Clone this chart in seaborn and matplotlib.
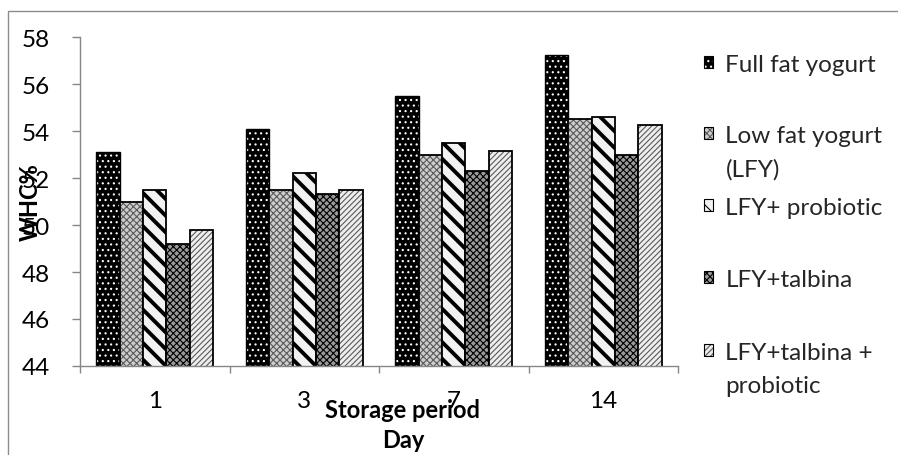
import matplotlib
matplotlib.use('Agg')
import matplotlib.pyplot as plt
import matplotlib.patches as mpatches
from matplotlib.colors import to_rgba
import seaborn as sns
import pandas as pd

# ---- data ----
days = ['1', '3', '7', '14']
products = ['Full fat yogurt', 'Low fat yogurt\n(LFY)', 'LFY+ probiotic',
            'LFY+talbina', 'LFY+talbina +\nprobiotic']
full_fat = [53.1, 54.1, 55.5, 57.25]
low_fat = [51.0, 51.5, 53.0, 54.5]
lfy_probiotic = [51.5, 52.2, 53.5, 54.6]
lfy_talbina = [49.2, 51.3, 52.3, 53.0]
lfy_talbina_probiotic = [49.8, 51.5, 53.15, 54.25]
y_ticks = [44, 46, 48, 50, 52, 54, 56, 58]
x_label = 'Storage period\nDay'
y_label = 'WHC%'

series = [full_fat, low_fat, lfy_probiotic, lfy_talbina, lfy_talbina_probiotic]
rows = []
for prod, vals in zip(products, series):
    for d, v in zip(days, vals):
        rows.append({'day': d, 'whc': v, 'product': prod})
df = pd.DataFrame(rows)

# ---- styles: face, hatch, hatch colour, hatch lw, edge lw ----
styles = [
    ('#000000', '...', '#ffffff', 0.8, 1.0),
    ('#cdcdcd', 'xxxxx', '#5a5a5a', 0.8, 1.3),
    ('#f2f2f2', '\\\\', '#000000', 2.8, 1.3),
    ('#9a9a9a', 'xxxxx', '#000000', 0.8, 1.3),
    ('#eeeeee', '//////', '#5a5a5a', 0.8, 1.3),
]

sns.set_theme(style='white')
plt.rcParams['font.family'] = ['Lato', 'DejaVu Sans']
plt.rcParams['hatch.linewidth'] = 0.8

FS = 17.5
DPI = 100

fig = plt.figure(figsize=(8.98, 4.56), dpi=DPI)
ax = fig.add_axes([80/898, 1-367/456, 598/898, 329/456])

sns.barplot(data=df, x='day', y='whc', hue='product', order=days,
            hue_order=products, width=0.78, dodge=True, legend=False,
            errorbar=None, ax=ax)


def style_patch(p, st):
    face, hatch, hc, hlw, elw = st
    p.set_facecolor(face)
    p.set_hatch(hatch)
    if hasattr(p, 'set_hatchcolor'):
        p.set_edgecolor('black')
        p.set_hatchcolor(hc)
    else:
        p.set_edgecolor(hc)
        p._edgecolor = to_rgba('black')
    if hasattr(p, 'set_hatch_linewidth'):
        p.set_hatch_linewidth(hlw)
    else:
        p._hatch_linewidth = hlw
    p.set_linewidth(elw)


for cont, st in zip(ax.containers, styles):
    for p in cont.patches:
        style_patch(p, st)

ax.set_ylim(44, 58)
ax.set_yticks(y_ticks)
ax.set_yticklabels([str(t) for t in y_ticks])
ax.set_xlim(-0.5, 3.5)
ax.set_xticks([-0.5, 0.5, 1.5, 2.5, 3.5])
ax.set_xticklabels([])
ax.set_xticks(range(len(days)), labels=days, minor=True)

spine_c = '#868686'
for s in ['top', 'right']:
    ax.spines[s].set_visible(False)
for s in ['left', 'bottom']:
    ax.spines[s].set_color(spine_c)
    ax.spines[s].set_linewidth(1.0)

ax.tick_params(axis='y', which='major', direction='out', length=5.5, width=1,
               color=spine_c, left=True, labelsize=FS, pad=16, labelcolor='black')
ax.tick_params(axis='x', which='major', direction='out', length=5, width=1,
               color=spine_c, bottom=True, labelbottom=False)
ax.tick_params(axis='x', which='minor', length=0, bottom=True, labelsize=FS,
               pad=17.5, labelcolor='black')
ax.grid(False)

ax.set_xlabel(x_label, fontsize=17, fontweight='bold', linespacing=1.35, color='black')
ax.xaxis.set_label_coords(0.54, -0.178)
ax.xaxis.label.set_va('center')
ax.set_ylabel(y_label, fontsize=17, fontweight='bold', color='black')
ax.yaxis.set_label_coords(-0.083, 0.5)
ax.yaxis.label.set_va('center')

# legend: one entry per key, each placed at its row like the reference
legend_tops = [55, 126, 198, 270, 343]
legends = []
for st, lab, top in zip(styles, products, legend_tops):
    h = mpatches.Patch()
    style_patch(h, st)
    h.set_linewidth(0.8)
    leg = fig.legend(handles=[h], labels=[lab], loc='upper left',
                     bbox_to_anchor=(704/898, 1-top/456), frameon=False,
                     fontsize=FS, handlelength=0.38, handleheight=0.38,
                     handletextpad=0.5, borderpad=0, borderaxespad=0)
    for t in leg.get_texts():
        t.set_linespacing(1.7)
    legends.append(leg)

# keep each key next to the first line of its (possibly wrapped) label
fig.canvas.draw()
renderer = fig.canvas.get_renderer()


def key_offset(leg):
    tb = leg.get_texts()[0].get_window_extent(renderer)
    hb = leg.legend_handles[0].get_window_extent(renderer)
    return tb.y1 - (hb.y0 + hb.y1) / 2


ref_off = key_offset(legends[0])
for leg in legends[1:]:
    off = key_offset(leg)
    dy_px = off - ref_off
    hnd = leg.legend_handles[0]
    hnd.set_y(hnd.get_y() + dy_px * 72 / DPI)

# outer border
fig.add_artist(mpatches.Rectangle((8/898, -0.1), 1.2, 1 - 12/456 + 0.1,
                                  transform=fig.transFigure, fill=False,
                                  edgecolor='#8c8c8c', linewidth=1.0))

fig.savefig('out.png', dpi=DPI)
